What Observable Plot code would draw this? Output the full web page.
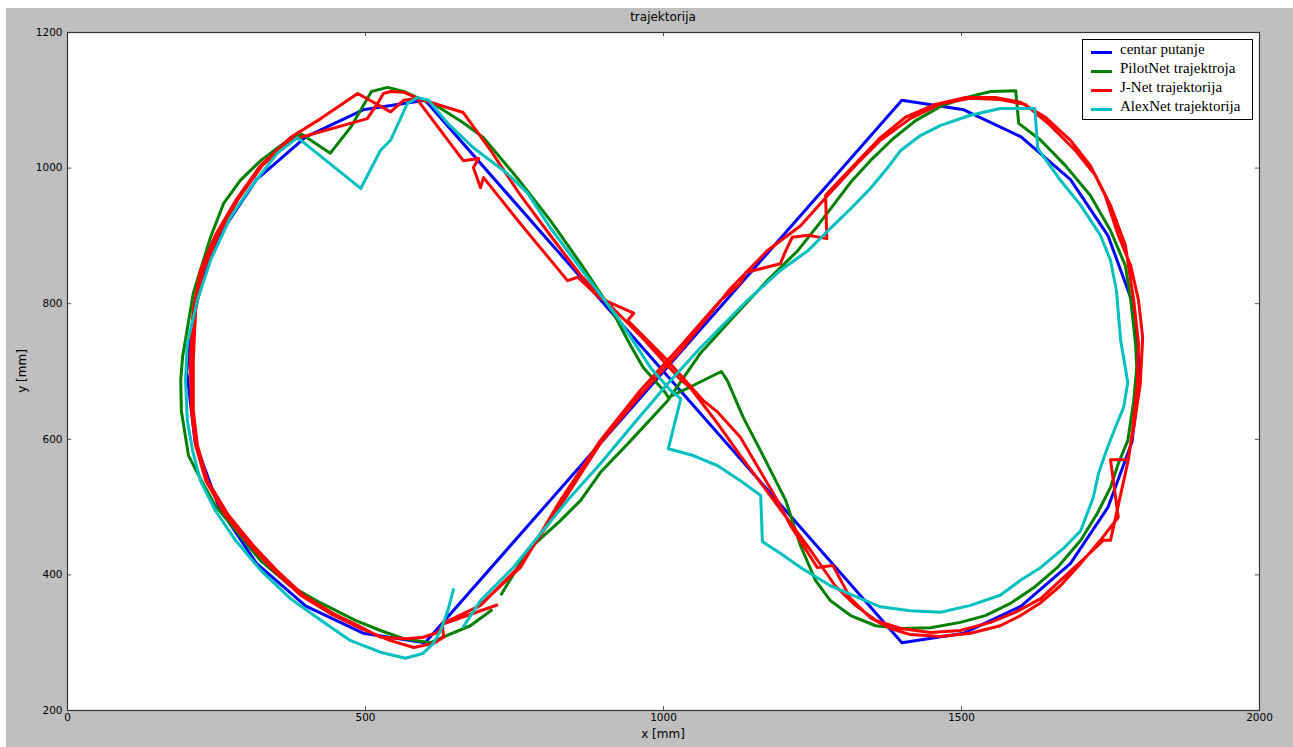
<!DOCTYPE html>
<html><head><meta charset="utf-8">
<script src="https://cdn.jsdelivr.net/npm/d3@7"></script>
<script src="https://cdn.jsdelivr.net/npm/@observablehq/plot@0.6"></script>
<style>
html,body{margin:0;padding:0;background:#fff;}
body{width:1293px;height:747px;overflow:hidden;position:relative;font-family:"DejaVu Sans",sans-serif;}
#fig{position:absolute;left:6px;top:8px;width:1287px;height:739px;background:#bfbfbf;}
#chart{position:absolute;left:0;top:0;}
.lbl{position:absolute;font-size:12px;color:#000;white-space:nowrap;}
#legend{position:absolute;left:1082px;top:39px;width:169px;height:79px;background:#fff;border:1px solid #000;font-family:"Liberation Serif","Times New Roman",serif;font-size:15px;}
.item{position:absolute;left:0;width:169px;height:19px;line-height:19px;white-space:nowrap;}
.item .sw{position:absolute;left:8px;top:9px;width:21px;height:3px;}
.item .tx{position:absolute;left:37px;top:-2px;white-space:nowrap;}
</style></head>
<body>
<div id="fig"><div id="chart"></div></div>
<div class="lbl" id="title" style="left:0;width:1326px;text-align:center;top:10px;">trajektorija</div>
<div class="lbl" id="xlab" style="left:0;width:1326px;text-align:center;top:727px;">x [mm]</div>
<div class="lbl" id="ylab" style="left:22px;top:371px;transform:translate(-50%,-50%) rotate(-90deg);">y [mm]</div>
<div id="legend"></div>
<script>
const xTicks = [0, 500, 1000, 1500, 2000];
const yTicks = [200, 400, 600, 800, 1000, 1200];
const seriesNames = ["centar putanje", "PilotNet trajektroja", "J-Net trajektorija", "AlexNet trajektorija"];

const centarPutanje = [[600,300],[1400,1100],[1504,1086],[1600,1046],[1683,983],[1746,900],[1786,804],[1800,700],[1786,596],[1746,500],[1683,417],[1600,354],[1504,314],[1400,300],[600,1100],[496,1086],[400,1046],[317,983],[254,900],[214,804],[200,700],[214,596],[254,500],[317,417],[400,354],[496,314],[600,300]];

const pilotNet = [[727,370],[772,436],[827,480],[861,510],[894,551],[945,598],[1007,657],[1062,727],[1117,780],[1174,834],[1225,878],[1263,920],[1314,979],[1347,1011],[1386,1044],[1423,1070],[1465,1091],[1507,1104],[1549,1113],[1591,1114],[1596,1066],[1633,1041],[1674,1004],[1716,960],[1750,908],[1775,856],[1784,805],[1792,741],[1794,706],[1789,657],[1779,598],[1763,564],[1750,529],[1728,491],[1700,451],[1661,411],[1621,381],[1582,358],[1540,340],[1498,330],[1448,322],[1398,321],[1356,325],[1314,340],[1280,362],[1255,392],[1230,443],[1205,510],[1163,583],[1134,632],[1107,687],[1097,700],[1042,676],[1008,662],[1003,669],[966,706],[945,738],[916,786],[866,853],[810,923],[755,985],[698,1045],[664,1067],[614,1095],[587,1104],[564,1113],[537,1119],[510,1113],[475,1060],[441,1022],[393,1050],[362,1036],[324,1011],[290,982],[262,948],[240,898],[211,815],[193,721],[190,687],[191,642],[203,576],[223,542],[248,502],[282,466],[324,421],[374,384],[424,359],[483,333],[525,318],[564,306],[609,300],[638,311],[676,325],[713,349]];

const jNet = [[688,352],[760,411],[827,510],[894,598],[961,672],[1029,738],[1096,805],[1129,830],[1138,846],[1196,859],[1205,878],[1216,898],[1243,901],[1274,896],[1272,960],[1314,999],[1364,1045],[1406,1075],[1456,1094],[1507,1104],[1557,1104],[1599,1097],[1641,1075],[1683,1041],[1716,1004],[1741,960],[1763,901],[1784,856],[1797,805],[1804,750],[1800,682],[1789,617],[1779,570],[1750,570],[1763,485],[1733,451],[1700,417],[1666,384],[1633,359],[1599,340],[1565,325],[1515,314],[1465,309],[1414,312],[1381,321],[1347,337],[1314,365],[1284,414],[1258,411],[1213,473],[1191,510],[1129,603],[1091,640],[1067,657],[1007,716],[940,775],[950,786],[894,808],[856,839],[839,834],[760,918],[698,986],[693,971],[681,1001],[690,1014],[664,1011],[592,1095],[587,1103],[564,1100],[542,1083],[487,1110],[425,1073],[374,1045],[324,1004],[282,952],[248,901],[223,849],[211,790],[206,716],[208,643],[215,591],[232,539],[265,488],[307,443],[349,404],[391,370],[441,343],[492,321],[542,303],[581,293],[614,299],[631,308],[629,328],[693,355],
[760,414],[827,502],[894,594],[961,665],[1029,731],[1112,822],[1174,878],[1230,915],[1280,964],[1322,1004],[1364,1041],[1414,1073],[1465,1095],[1515,1103],[1565,1101],[1607,1094],[1649,1063],[1691,1026],[1725,989],[1750,945],[1775,886],[1789,805],[1797,741],[1795,682],[1787,613],[1780,570],[1750,451],[1738,451],[1708,426],[1666,392],[1633,365],[1591,345],[1549,330],[1498,318],[1448,315],[1398,321],[1356,333],[1322,355],[1288,384],[1247,436],[1185,510],[1129,576],[1091,623],[1045,676],[1025,691],[961,753],[911,797],[861,842],[810,901],[760,960],[710,1026],[664,1082],[587,1103],[564,1112],[542,1113],[530,1110],[520,1095],[503,1073],[374,1041],[327,1004],[287,955],[253,901],[228,849],[215,790],[211,716],[211,643],[218,591],[235,539],[270,488],[312,443],[354,404],[396,370],[446,343],[497,321],[525,308],[570,306],[597,308],[621,315],[631,328],[722,356]];

const alexNet = [[663,322],[693,362],[748,411],[794,461],[839,510],[894,564],[950,623],[1007,682],[1062,735],[1141,805],[1196,849],[1242,878],[1280,911],[1314,940],[1347,970],[1372,996],[1398,1026],[1431,1048],[1465,1063],[1515,1078],[1565,1088],[1623,1088],[1628,1029],[1666,982],[1700,945],[1733,901],[1750,864],[1760,819],[1767,746],[1779,684],[1772,647],[1758,617],[1745,588],[1730,550],[1721,514],[1700,465],[1671,439],[1633,411],[1599,392],[1565,370],[1515,355],[1465,345],[1414,347],[1364,353],[1331,365],[1280,384],[1230,411],[1196,432],[1166,449],[1163,517],[1129,539],[1091,561],[1050,576],[1008,586],[1029,660],[1012,672],[978,706],[923,780],[872,839],[810,912],[772,963],[738,992],[681,1030],[638,1066],[606,1100],[587,1104],[570,1095],[542,1041],[525,1026],[492,970],[386,1045],[352,1022],[307,971],[273,927],[240,864],[218,805],[201,741],[198,687],[201,628],[210,583],[223,539],[248,495],[282,451],[324,407],[374,365],[425,333],[475,303],[525,286],[567,277],[596,284],[614,299],[626,318],[638,347],[648,380]];

const colors = ["#0000ff", "#008000", "#ff0000", "#00bfbf"];
const series = [centarPutanje, pilotNet, jNet, alexNet];

const lineOpts = {strokeWidth: 3, strokeLinejoin: "round", strokeLinecap: "butt"};
const tickStroke = "#555";

const chart = Plot.plot({
  width: 1287, height: 739,
  marginLeft: 61, marginTop: 24, marginRight: 34, marginBottom: 37,
  x: {domain: [0, 2000]},
  y: {domain: [200, 1200]},
  style: {background: "transparent", fontFamily: "DejaVu Sans", fontSize: "10.5px", color: "#000"},
  marks: [
    Plot.frame({fill: "#fff", stroke: null}),
    ...series.map((s, i) => Plot.line(s, {...lineOpts, stroke: colors[i]})),
    Plot.ruleX(xTicks, {x: d => d, y1: 200, y2: 206, stroke: tickStroke}),
    Plot.ruleX(xTicks, {x: d => d, y1: 1194, y2: 1200, stroke: tickStroke}),
    Plot.ruleY(yTicks, {y: d => d, x1: 0, x2: 7, stroke: tickStroke}),
    Plot.ruleY(yTicks, {y: d => d, x1: 1993, x2: 2000, stroke: tickStroke}),
    Plot.frame({stroke: "#333", strokeWidth: 1.2}),
    Plot.axisX({ticks: xTicks, tickSize: 0, tickPadding: 3, tickFormat: d => String(d), label: null}),
    Plot.axisY({ticks: yTicks, tickSize: 0, tickPadding: 5, tickFormat: d => String(d), label: null})
  ]
});
document.getElementById("chart").appendChild(chart);

const legend = document.getElementById("legend");
seriesNames.forEach((name, i) => {
  const it = document.createElement("div");
  it.className = "item";
  it.style.top = (2 + i * 19) + "px";
  it.innerHTML = `<span class="sw" style="background:${colors[i]}"></span><span class="tx">${name}</span>`;
  legend.appendChild(it);
});
</script>
</body></html>
